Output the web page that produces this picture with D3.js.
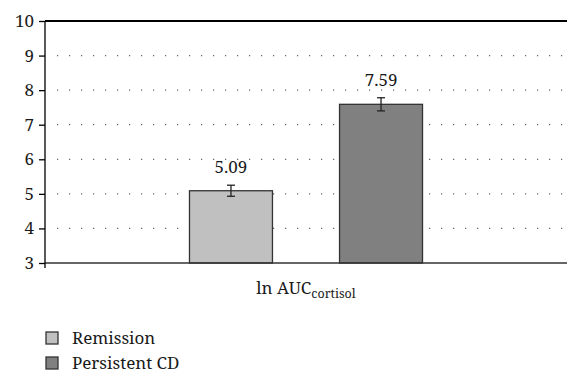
<!DOCTYPE html>
<html>
<head>
<meta charset="utf-8">
<script src="https://cdn.jsdelivr.net/npm/d3@7"></script>
<style>
  body { margin: 0; background: #fff; }
  svg text { font-family: "Noto Serif", "Liberation Serif", serif; fill: #1a1a1a; }
</style>
</head>
<body>
<div id="chart"></div>
<script>
// data
const groups = ["Remission", "Persistent CD"];
const values = [5.09, 7.59];
const errors = [0.16, 0.19];
const colors = ["#c0c0c0", "#808080"];
const yTicks = [3, 4, 5, 6, 7, 8, 9, 10];

const W = 567, H = 373;
const margin = { top: 21, right: 0, bottom: 110, left: 45 };
const width = W - margin.left - margin.right;
const height = H - margin.top - margin.bottom;

const svg = d3.select("#chart").append("svg")
    .attr("width", W).attr("height", H);
const g = svg.append("g").attr("transform", `translate(${margin.left},${margin.top})`);

const y = d3.scaleLinear().domain([3, 10]).range([height, 0]);
// one category holding both bars
const x0 = d3.scaleBand().domain(["ln AUC"]).range([0, width]).paddingInner(0).paddingOuter(0.62);
const x1 = d3.scaleBand().domain(groups).range([0, x0.bandwidth()]).paddingInner(0.447).paddingOuter(0);

// dotted grid
g.selectAll(".grid").data(yTicks.filter(d => d > 3 && d < 10)).enter()
  .append("line")
    .attr("x1", 12).attr("x2", width)
    .attr("y1", d => y(d)).attr("y2", d => y(d))
    .attr("stroke", "#666").attr("stroke-width", 1.2)
    .attr("stroke-dasharray", "1.2,10.8");

// bars
const cx = x0("ln AUC");
g.selectAll(".bar").data(groups).enter().append("rect")
    .attr("x", d => cx + x1(d))
    .attr("y", (d, i) => y(values[i]))
    .attr("width", x1.bandwidth())
    .attr("height", (d, i) => height - y(values[i]))
    .attr("fill", (d, i) => colors[i])
    .attr("stroke", "#333").attr("stroke-width", 1.3);

// error bars
const eb = g.selectAll(".err").data(groups).enter().append("g")
    .attr("stroke", "#222").attr("stroke-width", 1.3);
const mid = d => cx + x1(d) + x1.bandwidth() / 2;
eb.append("line")
    .attr("x1", mid).attr("x2", mid)
    .attr("y1", (d, i) => y(values[i] + errors[i]))
    .attr("y2", (d, i) => y(values[i] - errors[i]));
[1, -1].forEach(s => {
  eb.append("line")
    .attr("x1", d => mid(d) - 4).attr("x2", d => mid(d) + 4)
    .attr("y1", (d, i) => y(values[i] + s * errors[i]))
    .attr("y2", (d, i) => y(values[i] + s * errors[i]));
});

// value labels
g.selectAll(".val").data(groups).enter().append("text")
    .attr("x", mid)
    .attr("y", (d, i) => y(values[i] + errors[i]) - 12)
    .attr("text-anchor", "middle")
    .style("font-size", "17px")
    .text((d, i) => values[i].toFixed(2));

// top line
g.append("line").attr("x1", 0).attr("x2", width).attr("y1", 0).attr("y2", 0)
    .attr("stroke", "#000").attr("stroke-width", 2);
// bottom baseline
g.append("line").attr("x1", 0).attr("x2", width).attr("y1", height).attr("y2", height)
    .attr("stroke", "#333").attr("stroke-width", 1.3);

// y axis
const yAxis = g.append("g")
    .call(d3.axisLeft(y).tickValues(yTicks).tickFormat(d3.format("d")).tickSize(6).tickPadding(5));
yAxis.attr("font-family", null);
yAxis.select(".domain").attr("stroke", "#000").attr("stroke-width", 1.3)
    .attr("d", `M0,0V${height + 5}`);
yAxis.selectAll(".tick line").attr("stroke", "#000").attr("stroke-width", 1.3);
yAxis.selectAll(".tick text")
    .style("font-size", "17px").attr("fill", "#1a1a1a");

// x label with subscript
const xl = g.append("text")
    .attr("x", cx + x0.bandwidth() / 2)
    .attr("y", height + 31)
    .attr("text-anchor", "middle")
    .style("font-size", "17px");
xl.append("tspan").text("ln AUC");
xl.append("tspan").attr("dy", 4).style("font-size", "12.5px").text("cortisol");

// legend
const legend = svg.selectAll(".legend").data(groups).enter().append("g")
    .attr("transform", (d, i) => `translate(46, ${332 + i * 25})`);
legend.append("rect")
    .attr("width", 12).attr("height", 12)
    .attr("fill", (d, i) => colors[i])
    .attr("stroke", "#333").attr("stroke-width", 1.3);
legend.append("text")
    .attr("x", 26).attr("y", 12)
    .style("font-size", "17px")
    .text(d => d);
</script>
</body>
</html>
